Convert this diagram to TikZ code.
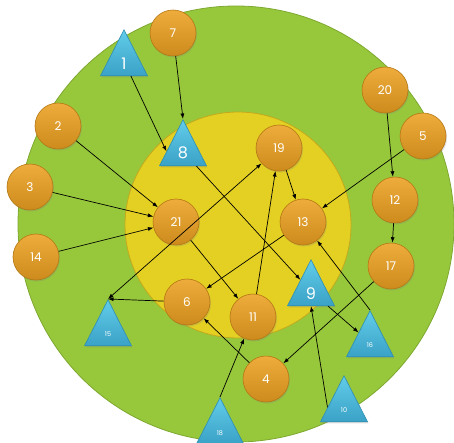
\documentclass[tikz,border=0pt]{standalone}
\usepackage{fontspec}
\setmainfont{Poppins}
\usetikzlibrary{shapes.geometric,shadows,arrows.meta}
\definecolor{gfill}{HTML}{97C83B}
\definecolor{gline}{HTML}{7EA830}
\definecolor{yfill}{HTML}{E4D022}
\definecolor{yline}{HTML}{C2A91E}
\definecolor{otop}{HTML}{EEAC3C}
\definecolor{obot}{HTML}{CC8B1C}
\definecolor{oline}{HTML}{B57714}
\definecolor{btop}{HTML}{62CCEA}
\definecolor{bbot}{HTML}{3AA2C6}
\definecolor{bline}{HTML}{2E8EB2}
\begin{document}
\begin{tikzpicture}[x=1pt,y=-1pt,
  ball/.style={circle, minimum size=46pt, inner sep=0pt, draw=oline, line width=0.6pt,
    top color=otop, bottom color=obot,
    drop shadow={shadow xshift=1pt,shadow yshift=-1.5pt,opacity=0.25},
    text=white, font=\fontsize{12}{12}\selectfont},
  tri/.style={isosceles triangle, shape border rotate=90, isosceles triangle stretches,
    minimum width=47pt, minimum height=46pt, inner sep=0pt, anchor=apex,
    draw=bline, line width=0.6pt, top color=btop, bottom color=bbot,
    drop shadow={shadow xshift=1pt,shadow yshift=-1.5pt,opacity=0.25}},
  bigtxt/.style={text=white, font=\fontsize{16}{16}\selectfont, inner sep=0pt},
  smalltxt/.style={text=white, font=\fontsize{6.5}{6.5}\selectfont, inner sep=0pt},
  arr/.style={-{Latex[length=5.5pt,width=4pt]}, line width=0.7pt, black},
  dblarr/.style={{Latex[length=5.5pt,width=4pt]}-{Latex[length=5.5pt,width=4pt]}, line width=0.7pt, black}]
\useasboundingbox (0,0) rectangle (454,443);
% rings
\fill[gfill, draw=gline, line width=0.8pt] (236,224) circle (218);
\fill[yfill, draw=yline, line width=0.8pt] (238,225) circle (113);
% circles
\node[ball] (c7) at (173,33) {7};
\node[ball] (c2) at (58,126) {2};
\node[ball] (c3) at (30,187) {3};
\node[ball] (c21) at (176,222) {21};
\node[ball] (c14) at (36,257) {14};
\node[ball] (c6) at (187,302) {6};
\node[ball] (c20) at (385,90) {20};
\node[ball] (c5) at (423,136) {5};
\node[ball] (c19) at (279,148) {19};
\node[ball] (c12) at (395,200) {12};
\node[ball] (c13) at (303,222) {13};
\node[ball] (c17) at (391,266) {17};
\node[ball] (c11) at (253,317) {11};
\node[ball] (c4) at (266,379) {4};
% triangles
\node[tri] (t1) at (124,29) {};
\node[tri] (t8) at (183,119) {};
\node[tri] (t15) at (108,299) {};
\node[tri] (t18) at (220,397) {};
\node[tri] (t9) at (311,259) {};
\node[tri] (t16) at (370,310) {};
\node[tri] (t10) at (344,375) {};
\node[bigtxt] (l1) at (124,64) {1};
\node[bigtxt] (l8) at (183,153) {8};
\node[bigtxt] (l9) at (311,294) {9};
\node[smalltxt] (l15) at (108,334) {15};
\node[smalltxt] (l16) at (370,345) {16};
\node[smalltxt] (l10) at (344,410) {10};
\node[smalltxt] (l18) at (220,433) {18};
% connectors
\draw[arr] (t1) -- (t8.west);
\draw[arr] (c7) -- (t8.apex);
\draw[arr] (c2) -- (c21);
\draw[arr] (c3) -- (c21);
\draw[arr] (c14) -- (c21);
\draw[arr] (t8) -- (t9);
\draw[arr] (c21) -- (c11);
\draw[arr] (c13) -- (c6);
\draw[arr] (c6) -- (t15.apex);
\draw[arr] (c11) -- (c19);
\draw[arr] (c19) -- (c13);
\draw[arr] (c5) -- (c13);
\draw[arr] (c20) -- (c12);
\draw[arr] (c12) -- (c17);
\draw[arr] (c17) -- (c4);
\draw[arr] (t16.apex) -- (c13);
\draw[arr] (t9) -- (t16);
\draw[arr] (t10.west) -- (t9.south);
\draw[arr] (c4) -- (c6);
\draw[arr] (t18.apex) -- (c11);
\draw[dblarr] (t15.apex) -- (c19);
\end{tikzpicture}
\end{document}
